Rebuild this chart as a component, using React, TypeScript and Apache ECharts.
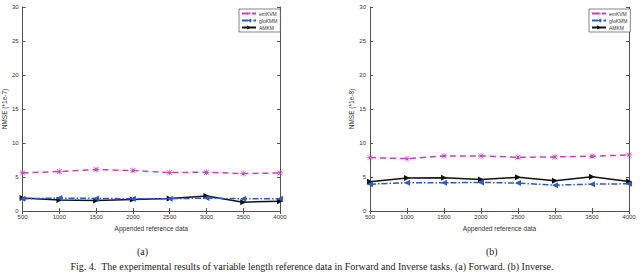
import React, { useEffect, useRef } from "react";
import * as echarts from "echarts";

const xValues = [500, 1000, 1500, 2000, 2500, 3000, 3500, 4000];
const seriesNames = ["emKVM", "gloKMM", "AMKM"];
const panelAEm = [5.6, 5.8, 6.1, 5.95, 5.65, 5.7, 5.5, 5.6];
const panelAGlo = [1.8, 1.9, 1.85, 1.8, 1.8, 1.9, 1.8, 1.8];
const panelAAm = [1.9, 1.6, 1.55, 1.7, 1.85, 2.2, 1.3, 1.45];
const panelBEm = [7.85, 7.7, 8.1, 8.1, 7.9, 7.95, 8.05, 8.25];
const panelBGlo = [3.95, 4.15, 4.15, 4.2, 4.1, 3.8, 3.95, 4.0];
const panelBAm = [4.3, 4.85, 4.9, 4.65, 4.95, 4.45, 5.05, 4.35];
const yAxisNames = ["NMSE (*1e-7)", "NMSE (*1e-8)"];
const xAxisName = "Appended reference data";
const panelLabels = ["(a)", "(b)"];
const caption =
  "Fig. 4.  The experimental results of variable length reference data in Forward and Inverse tasks. (a) Forward. (b) Inverse.";

const FRAME = "#5e4e4a";
const FONT = "Liberation Sans";
const SERIF = "Liberation Serif";
const COLORS = ["#c444b4", "#2a5cc4", "#111111"];
const SYMBOLS = [
  "path://M4.5 0h1v10h-1z M0 4.5h10v1h-10z M1.2 0.5l8.3 8.3-0.7 0.7-8.3-8.3z M8.8 0.5l0.7 0.7-8.3 8.3-0.7-0.7z",
  "path://M0 5L10 0L10 10Z",
  "path://M10 5L0 0L0 10Z",
];
const LINE_TYPES: any[] = [[6, 4], [6, 2, 1.5, 2], "solid"];

export default function App() {
  const ref = useRef<HTMLDivElement>(null);
  useEffect(() => {
    document.body.style.margin = "0";
    if (!ref.current) return;
    const chart = echarts.init(ref.current, undefined, { renderer: "svg" });
    const grids = [
      { left: 21, right: 360, top: 7, bottom: 62 },
      { left: 370, right: 11, top: 7, bottom: 62 },
    ];
    const xAxes: any[] = [];
    const yAxes: any[] = [];
    grids.forEach((_, g) => {
      const common = {
        gridIndex: g,
        type: "value",
        min: 500,
        max: 4000,
        interval: 500,
        axisLine: { show: true, lineStyle: { color: FRAME, width: 1 } },
        axisTick: { show: true, inside: true, length: 3, lineStyle: { color: FRAME } },
        splitLine: { show: false },
      };
      xAxes.push({
        ...common,
        position: "bottom",
        axisLabel: {
          show: true,
          fontSize: 6,
          color: "#333",
          margin: 3,
          fontFamily: FONT,
          formatter: (v: number) => String(v),
        },
        name: xAxisName,
        nameLocation: "middle",
        nameGap: 10,
        nameTextStyle: { fontSize: 6.5, color: "#333", fontFamily: FONT },
      });
      xAxes.push({ ...common, position: "top", axisLabel: { show: false } });
      const ycommon = {
        gridIndex: g,
        type: "value",
        min: 0,
        max: 30,
        interval: 5,
        axisLine: { show: true, lineStyle: { color: FRAME, width: 1 } },
        axisTick: { show: true, inside: true, length: 3, lineStyle: { color: FRAME } },
        splitLine: { show: false },
      };
      yAxes.push({
        ...ycommon,
        position: "left",
        axisLabel: { show: true, fontSize: 6, color: "#333", margin: 4, fontFamily: FONT },
        name: yAxisNames[g],
        nameLocation: "middle",
        nameGap: 9,
        nameTextStyle: { fontSize: 6.5, color: "#333", fontFamily: FONT },
      });
      yAxes.push({ ...ycommon, position: "right", axisLabel: { show: false } });
    });
    const panels = [
      [panelAEm, panelAGlo, panelAAm],
      [panelBEm, panelBGlo, panelBAm],
    ];
    const series: any[] = [];
    panels.forEach((vals, g) => {
      vals.forEach((arr, i) => {
        series.push({
          type: "line",
          name: seriesNames[i],
          xAxisIndex: g * 2,
          yAxisIndex: g * 2,
          data: xValues.map((x, k) => [x, arr[k]]),
          symbol: SYMBOLS[i],
          symbolSize: 6,
          showAllSymbol: true,
          itemStyle: { color: COLORS[i] },
          lineStyle: { color: COLORS[i], width: 1.5, type: LINE_TYPES[i] },
          z: 3 - i,
        });
      });
    });
    const legendCommon = {
      orient: "vertical",
      data: seriesNames,
      top: 9,
      itemWidth: 14,
      itemHeight: 5,
      itemGap: 2,
      padding: [2, 3, 2, 2],
      borderColor: "#333",
      borderWidth: 0.6,
      backgroundColor: "#fff",
      textStyle: { fontSize: 5, color: "#333", fontFamily: FONT, padding: [0, 0, 0, -2] },
    };
    chart.setOption({
      animation: false,
      grid: grids,
      xAxis: xAxes,
      yAxis: yAxes,
      series,
      legend: [
        { ...legendCommon, left: 239 },
        { ...legendCommon, left: 589 },
      ],
      graphic: [
        {
          type: "text",
          left: 137,
          top: 246,
          style: { text: panelLabels[0], fontSize: 10, fontFamily: SERIF, fill: "#222" },
        },
        {
          type: "text",
          left: 486,
          top: 246,
          style: { text: panelLabels[1], fontSize: 10, fontFamily: SERIF, fill: "#222" },
        },
        {
          type: "text",
          x: 312,
          y: 261,
          style: {
            text: caption,
            fontSize: 10,
            fontFamily: SERIF,
            fill: "#222",
            align: "center",
            verticalAlign: "top",
          },
        },
      ],
    });
    return () => chart.dispose();
  }, []);
  return <div ref={ref} style={{ width: 640, height: 273 }} />;
}
